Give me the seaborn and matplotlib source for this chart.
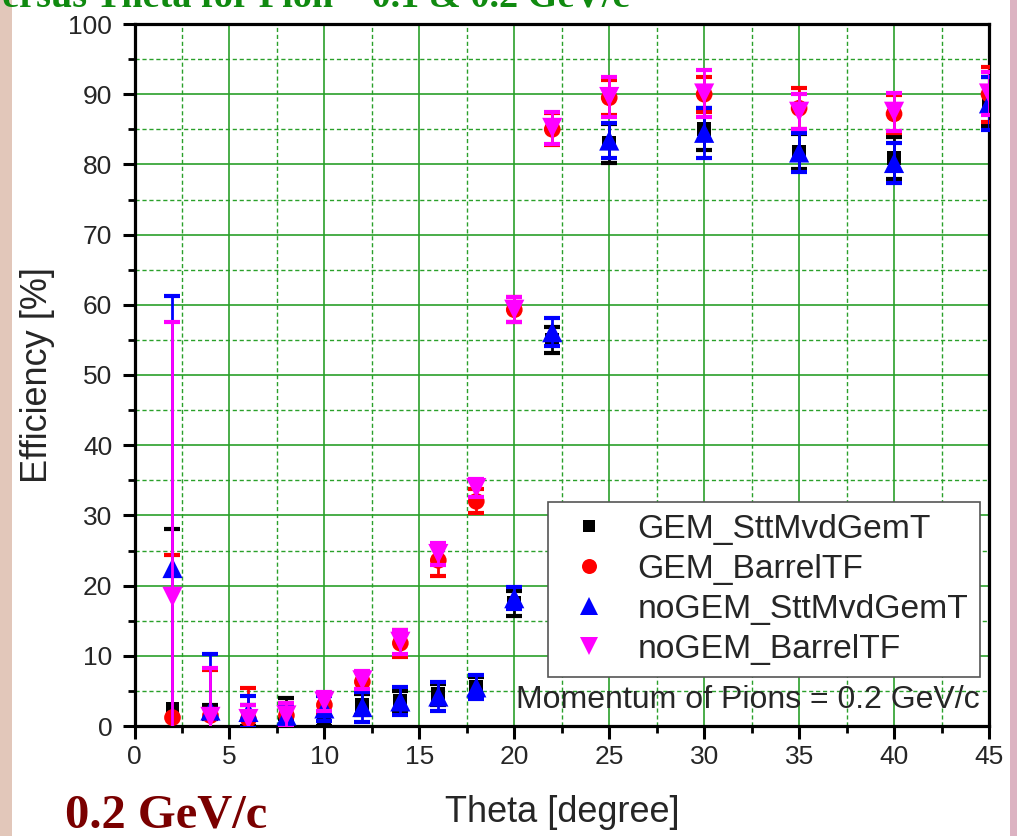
import numpy as np
import pandas as pd
import matplotlib
matplotlib.use("Agg")
import matplotlib.pyplot as plt
from matplotlib.lines import Line2D
from matplotlib.patches import Rectangle
import seaborn as sns

# ---------------- data ----------------
theta = [2, 4, 6, 8, 10, 12, 14, 16, 18, 20, 22, 25, 30, 35, 40, 45]

gem_stt = [2.5, 2.0, 1.5, 2.5, 0.7, 3.0, 3.5, 4.5, 5.5, 17.5, 55.0, 83.0, 85.0, 81.8, 80.9, 89.0]
gem_stt_err = [25.5, 1.0, 1.5, 1.5, 0.7, 1.5, 1.5, 1.5, 1.5, 1.8, 1.8, 2.8, 3.0, 2.5, 3.0, 3.5]

gem_barrel = [1.2, 1.5, 1.0, 1.5, 3.0, 6.3, 11.8, 23.6, 32.0, 59.3, 85.0, 89.5, 90.0, 88.0, 87.2, 90.0]
gem_barrel_err = [23.2, 6.5, 4.4, 1.8, 1.5, 1.4, 1.9, 2.2, 1.7, 1.8, 2.3, 2.5, 2.5, 2.9, 2.7, 3.9]

nogem_stt = [22.5, 2.2, 2.0, 1.5, 2.5, 2.7, 3.5, 4.2, 5.5, 18.2, 56.1, 83.4, 84.5, 81.7, 80.2, 88.7]
nogem_stt_err = [38.8, 8.0, 2.3, 1.5, 1.8, 2.2, 2.0, 2.0, 1.7, 1.6, 2.0, 2.5, 3.6, 2.8, 2.9, 3.8]

nogem_barrel = [18.4, 1.3, 1.0, 1.5, 3.5, 6.5, 12.0, 24.5, 33.9, 59.3, 85.2, 89.6, 90.1, 87.5, 87.5, 90.1]
nogem_barrel_err = [39.1, 7.0, 2.0, 1.8, 1.3, 1.3, 1.7, 1.5, 1.3, 1.8, 2.3, 2.8, 3.3, 2.5, 2.7, 3.0]

labels = ["GEM_SttMvdGemT", "GEM_BarrelTF", "noGEM_SttMvdGemT", "noGEM_BarrelTF"]
x_ticks = [0, 5, 10, 15, 20, 25, 30, 35, 40, 45]
y_ticks = [0, 10, 20, 30, 40, 50, 60, 70, 80, 90, 100]

series = [
    (labels[0], gem_stt, gem_stt_err, "s", "#000000", 10),
    (labels[1], gem_barrel, gem_barrel_err, "o", "#ff0000", 12),
    (labels[2], nogem_stt, nogem_stt_err, "^", "#0000ff", 14.5),
    (labels[3], nogem_barrel, nogem_barrel_err, "v", "#ff00ff", 14.5),
]

# ---------------- style ----------------
sns.set_style("white")
plt.rcParams["font.family"] = ["Liberation Sans", "DejaVu Sans"]

W, H = 1017, 836
fig = plt.figure(figsize=(W / 100, H / 100), dpi=100)
fig.patch.set_facecolor("white")

# slide background strips on left / right
fig.patches.append(Rectangle((0, 0), 12 / W, 1, transform=fig.transFigure,
                             facecolor="#e2c7ba", edgecolor="none", zorder=0))
fig.patches.append(Rectangle((1010 / W, 0), 7 / W, 1, transform=fig.transFigure,
                             facecolor="#dcb3c2", edgecolor="none", zorder=0))

AX_L, AX_R, AX_T, AX_B = 134.5, 989, 24, 726
ax = fig.add_axes([AX_L / W, (H - AX_B) / H, (AX_R - AX_L) / W, (AX_B - AX_T) / H])
ax.set_facecolor("white")

for i, (lab, y, e, m, c, ms) in enumerate(series):
    ax.errorbar(theta, y, yerr=e, fmt="none", ecolor=c, elinewidth=2.0,
                capsize=6, capthick=3, zorder=3 + i * 2)
    df = pd.DataFrame({"theta": theta, "eff": y})
    sns.scatterplot(data=df, x="theta", y="eff", marker=m, color=c, s=ms ** 2,
                    edgecolor="none", linewidth=0, ax=ax, zorder=4 + i * 2,
                    legend=False)

ax.set_xlim(0, 45)
ax.set_ylim(0, 100)
ax.set_xticks(x_ticks)
ax.set_yticks(y_ticks)
ax.set_xticks(np.arange(0, 45.1, 2.5), minor=True)
ax.set_yticks(np.arange(0, 100.1, 5), minor=True)

ax.grid(True, which="major", color="#2aa02a", linewidth=1.2, linestyle="-", zorder=0)
ax.grid(True, which="minor", color="#2aa02a", linewidth=1.0, linestyle=(0, (3, 2)), zorder=0)
ax.set_axisbelow(True)

for sp in ax.spines.values():
    sp.set_linewidth(2.3)
    sp.set_color("black")
    sp.set_visible(True)

ax.tick_params(axis="both", which="major", direction="out", length=9, width=2.2,
               color="black", top=False, right=False, bottom=True, left=True)
ax.tick_params(axis="both", which="minor", direction="out", length=5, width=2,
               color="black", top=False, right=False, bottom=True, left=True)
ax.tick_params(axis="y", which="major", pad=7)
ax.tick_params(axis="x", which="major", pad=5)
for t in ax.get_xticklabels() + ax.get_yticklabels():
    t.set_fontsize(19)

ax.set_xlabel("Theta [degree]", fontsize=26, family=["Liberation Sans"])
ax.set_ylabel("Efficiency [%]", fontsize=26, family=["Liberation Sans"])
ax.xaxis.set_label_coords((562 - AX_L) / (AX_R - AX_L), -0.098)
ax.yaxis.set_label_coords((55 - AX_L) / (AX_R - AX_L), 0.5)

handles = [Line2D([], [], linestyle="none", marker=m, color=c, markersize=ms * 0.9,
                  markeredgewidth=0) for (_, _, _, m, c, ms) in series]
leg = ax.legend(handles, labels, loc="upper right",
                bbox_to_anchor=((980 - AX_L) / (AX_R - AX_L), (AX_B - 502) / (AX_B - AX_T)),
                borderaxespad=0, fontsize=24.2, frameon=True, fancybox=False,
                framealpha=1, edgecolor="#555555", handlelength=1.7,
                handletextpad=0.6, borderpad=0.35, labelspacing=0.27)
leg.get_frame().set_linewidth(1.2)
leg.set_zorder(20)

ax.text((980 - AX_L) / (AX_R - AX_L), (AX_B - 708) / (AX_B - AX_T),
        "Momentum of Pions = 0.2 GeV/c", transform=ax.transAxes,
        ha="right", va="baseline", fontsize=23, zorder=21)

# cut-off slide title at the top (as on the original slide)
fig.text(629 / W, 1 - 7 / H, "Efficiency versus Theta for Pion \u2013 0.1 & 0.2 GeV/c",
         ha="right", va="baseline", fontsize=27.5, fontweight="bold",
         family=["Liberation Serif", "DejaVu Serif"], color="#108a10")

# slide caption
fig.text(65 / W, 1 - 828 / H, "0.2 GeV/c", ha="left", va="baseline",
         fontsize=35, fontweight="bold", family=["Liberation Serif", "DejaVu Serif"],
         color="#7a0000")

fig.savefig("out.png", dpi=100, facecolor=fig.get_facecolor())
